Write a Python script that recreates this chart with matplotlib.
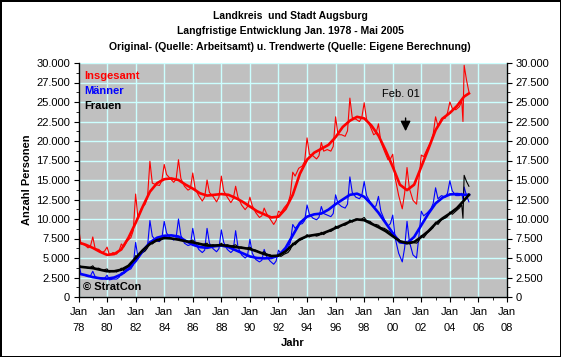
import matplotlib
matplotlib.use("Agg")
from matplotlib import pyplot as plt
from matplotlib.ticker import FixedLocator, MultipleLocator, FuncFormatter

plt.rcParams['font.family'] = ['Liberation Sans', 'DejaVu Sans']

# Originalwerte, je Jahr: Jan, Mrz, Jun, Sep, Nov (1978-2004), dann Dez 04, Jan/Mrz/Mai 05
insgesamt_orig = [
    9000, 6800, 6700, 6300, 6500,
    7700, 6200, 6100, 5700, 5900,
    6400, 5400, 5700, 5500, 5900,
    6800, 6400, 7200, 7600, 8500,
    13200, 10000, 11400, 11900, 12800,
    17400, 14600, 14400, 14300, 14900,
    17000, 15700, 15200, 14700, 15100,
    17600, 15200, 14200, 13700, 13900,
    15900, 13900, 13000, 12300, 12800,
    15000, 13400, 12900, 12200, 12800,
    15500, 13600, 12800, 12100, 12600,
    14200, 12800, 11800, 11200, 11600,
    12800, 11700, 10800, 10200, 10400,
    11400, 10700, 10000, 9300, 9800,
    11000, 10800, 11500, 12000, 13100,
    16000, 15500, 16500, 16800, 17400,
    20400, 18300, 18100, 17700, 18100,
    19800, 18700, 18900, 18700, 19300,
    23100, 20800, 20800, 20600, 21300,
    25500, 23000, 22800, 22500, 23000,
    24900, 22800, 21900, 20800, 21000,
    22200, 19900, 18700, 17600, 17700,
    18300, 15300, 13000, 11300, 13300,
    16600, 13900, 12400, 11900, 15000,
    18200, 18000, 19000, 19900, 20900,
    23100, 21900, 22900, 22900, 23600,
    25000, 24200, 24000, 24400, 25100,
    22500,
    29700, 27800, 26300,
]
maenner_orig = [
    4500, 3000, 2800, 2600, 2700,
    3300, 2600, 2400, 2300, 2400,
    2800, 2200, 2300, 2300, 2500,
    3100, 3000, 3400, 3600, 4100,
    7000, 5000, 5800, 6000, 6500,
    9800, 7800, 7200, 7100, 7500,
    9700, 8200, 7600, 7300, 7600,
    10000, 7900, 6900, 6600, 6700,
    8800, 7000, 6100, 5700, 6000,
    8800, 6900, 6200, 5800, 6200,
    8600, 7000, 6100, 5700, 6000,
    8500, 6400, 5400, 5000, 5300,
    7400, 5600, 4800, 4500, 4700,
    6100, 5200, 4600, 4200, 4600,
    6000, 5600, 6000, 6300, 7000,
    9300, 8800, 9300, 9400, 9800,
    11800, 10600, 10100, 9900, 10200,
    11600, 10700, 10500, 10300, 10700,
    13100, 12000, 11600, 11400, 11900,
    15400, 13400, 12800, 12600, 13000,
    14800, 13000, 12200, 11500, 11700,
    12900, 11000, 9900, 9100, 9400,
    10500, 7600, 5600, 4500, 6300,
    9700, 7100, 5400, 5000, 7800,
    11000, 10400, 10800, 11300, 12000,
    14000, 12600, 13000, 12800, 13300,
    14900, 13600, 13000, 13000, 13300,
    12500,
    14100, 13000, 12200,
]
frauen_orig = [
    4300, 3800, 3900, 3700, 3800,
    4000, 3600, 3700, 3400, 3500,
    3600, 3200, 3400, 3200, 3400,
    3700, 3400, 3800, 4000, 4400,
    5300, 5000, 5600, 5900, 6300,
    7100, 6800, 7200, 7200, 7400,
    7800, 7500, 7600, 7400, 7500,
    7600, 7300, 7300, 7100, 7200,
    7300, 6900, 6900, 6700, 6800,
    6900, 6500, 6700, 6500, 6600,
    6900, 6600, 6700, 6500, 6600,
    6700, 6400, 6400, 6200, 6300,
    6400, 6100, 6000, 5700, 5700,
    5800, 5500, 5400, 5100, 5200,
    5500, 5200, 5500, 5700, 6100,
    6900, 6700, 7200, 7400, 7600,
    8000, 7700, 8000, 7800, 7900,
    8300, 8000, 8400, 8400, 8600,
    9100, 8800, 9200, 9200, 9400,
    9900, 9600, 10000, 9900, 10000,
    10200, 9800, 9700, 9300, 9300,
    9200, 8900, 8800, 8500, 8300,
    8000, 7700, 7400, 6900, 7000,
    7100, 6800, 7000, 6900, 7200,
    7900, 7600, 8200, 8600, 8900,
    9600, 9300, 9900, 10100, 10300,
    10900, 10600, 11000, 11400, 11800,
    10100,
    15600, 14800, 14200,
]

# Trendwerte halbjaehrlich (Jan/Jul 1978 ... Jan 2005), dann Mai 2005
insgesamt_trend = [
    7000, 6700, 6300, 5800, 5400, 5500, 6100, 7600, 9500, 11600,
    13500, 14600, 15100, 15200, 15000, 14400, 13900, 13300, 13000, 13100,
    13200, 13100, 12700, 12200, 11600, 11000, 10600, 10200, 10300, 11300,
    13100, 15800, 17600, 18500, 19000, 19500, 20500, 21800, 22600, 23100,
    22900, 22000, 20700, 18800, 16700, 14400, 13700, 14400, 16700, 19000,
    21400, 22900, 23600, 24500, 25700, 26100,
]
maenner_trend = [
    3000, 2800, 2550, 2400, 2350, 2500, 2900, 3600, 4600, 5900,
    7000, 7600, 7850, 7900, 7750, 7200, 6700, 6400, 6300, 6500,
    6600, 6400, 6000, 5600, 5200, 5000, 4950, 5000, 5300, 6300,
    7900, 9500, 10300, 10600, 10700, 11200, 11900, 12500, 13100, 13250,
    12850, 11900, 10800, 9500, 8200, 7000, 6900, 7700, 9200, 10700,
    12000, 12750, 13150, 13200, 13100, 13100,
]
frauen_trend = [
    3900, 3800, 3700, 3500, 3300, 3300, 3500, 4000, 5000, 6000,
    6800, 7300, 7550, 7500, 7350, 7150, 7000, 6800, 6600, 6600,
    6650, 6550, 6400, 6300, 6150, 5850, 5500, 5250, 5300, 5850,
    6700, 7400, 7800, 7950, 8100, 8450, 8850, 9250, 9650, 9950,
    9850, 9400, 8950, 8450, 7800, 7150, 6900, 7050, 7700, 8450,
    9400, 10100, 10700, 11400, 12400, 13100,
]

year_labels = ["78", "80", "82", "84", "86", "88", "90", "92",
               "94", "96", "98", "00", "02", "04", "06", "08"]

# Zeitachse (Dezimaljahre)
orig_x = []
for y in range(1978, 2005):
    for m in (1, 3, 6, 9, 11):
        orig_x.append(y + (m - 1) / 12)
orig_x.append(2004 + 11 / 12)
for m in (1, 3, 5):
    orig_x.append(2005 + (m - 1) / 12)

trend_x = [1978 + 0.5 * i for i in range(55)] + [2005 + 4 / 12]

W, H = 561, 357
fig = plt.figure(figsize=(W / 100, H / 100), dpi=100)
fig.patch.set_facecolor('white')
fig.patch.set_edgecolor('black')
fig.patch.set_linewidth(2)

ax = fig.add_axes([78.5 / W, 1 - 297 / H, (507 - 78.5) / W, (297 - 63) / H])
ax.set_facecolor('#C0C0C0')

ax.plot(orig_x, maenner_orig, color='#0000FF', linewidth=0.8)
ax.plot(orig_x, frauen_orig, color='black', linewidth=0.8)
ax.plot(orig_x, insgesamt_orig, color='#FF0000', linewidth=0.8)
ax.plot(trend_x, maenner_trend, color='#0000FF', linewidth=1.9)
ax.plot(trend_x, frauen_trend, color='black', linewidth=1.9)
ax.plot(trend_x, insgesamt_trend, color='#FF0000', linewidth=1.9)

ax.set_xlim(1978, 2008)
ax.set_ylim(0, 30000)

ax.grid(True, color='#CCFFFF', linewidth=1)
ax.set_axisbelow(True)

ax.xaxis.set_major_locator(FixedLocator(range(1978, 2009, 2)))
ax.xaxis.set_minor_locator(MultipleLocator(1))
labels = ax.set_xticklabels(["Jan\n" + s for s in year_labels], fontsize=8)
for lbl in labels:
    lbl.set_linespacing(1.75)

ax.yaxis.set_major_locator(MultipleLocator(2500))
ax.yaxis.set_minor_locator(MultipleLocator(1250))
ax.yaxis.set_major_formatter(FuncFormatter(lambda v, p: f"{int(v):,}".replace(",", ".")))
ax.yaxis.set_ticks_position('both')
ax.tick_params(axis='y', which='both', direction='out', labelright=True, labelsize=8, pad=2.5)
ax.tick_params(axis='y', which='major', length=3.5)
ax.tick_params(axis='y', which='minor', length=2.5)
ax.tick_params(axis='x', which='both', direction='out', labelsize=8, pad=4)
ax.tick_params(axis='x', which='major', length=3.5)
ax.tick_params(axis='x', which='minor', length=2.5)

ax.spines['top'].set_visible(False)
for s in ('left', 'right', 'bottom'):
    ax.spines[s].set_linewidth(1)
    ax.spines[s].set_color('black')

ax.text(0.013, 0.944, "Insgesamt", color='#FF0000', fontsize=8, fontweight='bold',
        transform=ax.transAxes, va='center')
ax.text(0.013, 0.880, "Männer", color='#0000FF', fontsize=8, fontweight='bold',
        transform=ax.transAxes, va='center')
ax.text(0.013, 0.816, "Frauen", color='black', fontsize=8, fontweight='bold',
        transform=ax.transAxes, va='center')
ax.text(0.011, 0.044, "© StratCon", color='black', fontsize=8, fontweight='bold',
        transform=ax.transAxes, va='center')

ax.text(2000.55, 26000, "Feb. 01", fontsize=8, ha='center', va='center')
ax.annotate("", xy=(2000.9, 20900), xytext=(2000.9, 23300),
            arrowprops=dict(arrowstyle='-|>,head_length=0.6,head_width=0.3',
                            color='black', lw=1, mutation_scale=10))

ax.set_xlabel("Jahr", fontsize=8, fontweight='bold', labelpad=3)
fig.text(27 / W, 1 - 180 / H, "Anzahl Personen", rotation=90, fontsize=8,
         fontweight='bold', ha='center', va='center')

cx = 290 / W
fig.text(cx, 1 - 16 / H, "Landkreis  und Stadt Augsburg", fontsize=7.5, fontweight='bold',
         ha='center', va='center')
fig.text(cx, 1 - 31.5 / H, "Langfristige Entwicklung Jan. 1978 - Mai 2005", fontsize=7.5,
         fontweight='bold', ha='center', va='center')
fig.text(cx, 1 - 47 / H,
         "Original- (Quelle: Arbeitsamt) u. Trendwerte (Quelle: Eigene Berechnung)",
         fontsize=7.5, fontweight='bold', ha='center', va='center')

fig.savefig("out.png", dpi=100)
